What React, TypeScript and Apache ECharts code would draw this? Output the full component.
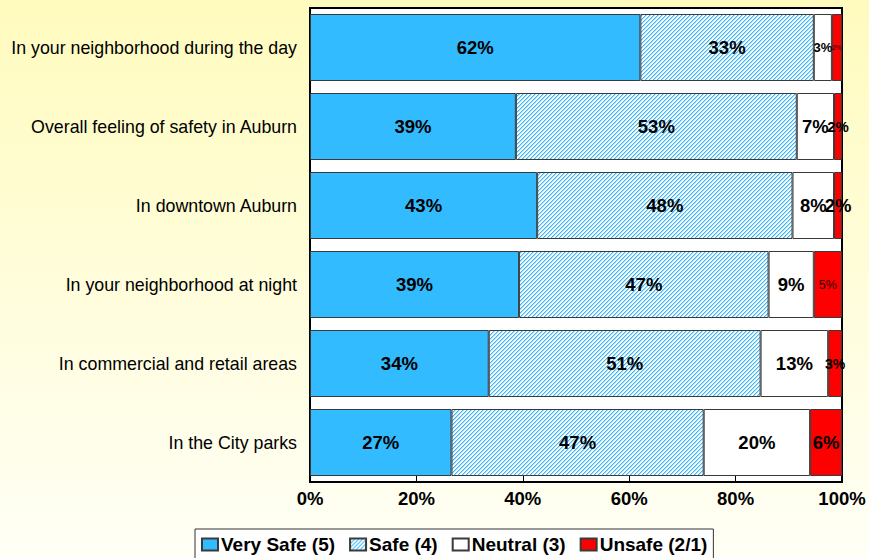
import React, { useEffect, useRef } from "react";
import * as echarts from "echarts";

const categories = [
  "In your neighborhood during the day",
  "Overall feeling of safety in Auburn",
  "In downtown Auburn",
  "In your neighborhood at night",
  "In commercial and retail areas",
  "In the City parks",
];
const seriesNames = ["Very Safe (5)", "Safe (4)", "Neutral (3)", "Unsafe (2/1)"];
const verySafe = [62.1, 38.7, 42.7, 39.3, 33.6, 26.6];
const safe = [32.6, 52.8, 48.0, 46.9, 51.1, 47.4];
const neutral = [3.4, 7.0, 7.8, 8.5, 12.7, 20.0];
const unsafe = [1.9, 1.5, 1.5, 5.3, 2.6, 6.0];
const xTicks = [0, 20, 40, 60, 80, 100];

// label style overrides: [seriesIndex, rowIndex] -> style
const labelOverrides: Record<string, any> = {
  "2-0": { fontSize: 13 },
  "3-0": { fontSize: 6.5, color: "#600" },
  "3-1": { fontSize: 15 },
  "3-2": { fontSize: 18.5 },
  "3-3": { fontSize: 12.5, fontWeight: "normal", color: "#200" },
  "3-4": { fontSize: 14 },
};

function makePattern() {
  const c = document.createElement("canvas");
  c.width = 4;
  c.height = 4;
  const ctx = c.getContext("2d")!;
  ctx.fillStyle = "#ffffff";
  ctx.fillRect(0, 0, 4, 4);
  for (let x = 0; x < 4; x++) {
    for (let y = 0; y < 4; y++) {
      const k = (x + y) % 4;
      if (k === 0) {
        ctx.fillStyle = "#33BBFF";
        ctx.fillRect(x, y, 1, 1);
      } else if (k === 1) {
        ctx.fillStyle = "#A6DEFF";
        ctx.fillRect(x, y, 1, 1);
      }
    }
  }
  return { image: c, repeat: "repeat", imageWidth: 4, imageHeight: 4 } as any;
}

export default function App() {
  const ref = useRef<HTMLDivElement>(null);
  useEffect(() => {
    const chart = echarts.init(ref.current!, null, { renderer: "svg" });
    const pattern = makePattern();
    const colors: any[] = ["#33BBFF", pattern, "#ffffff", "#FF0000"];
    const dataSets = [verySafe, safe, neutral, unsafe];
    const font = "'Liberation Sans', Arial, sans-serif";
    chart.setOption({
      animation: false,
      backgroundColor: new echarts.graphic.LinearGradient(0, 0, 0, 1, [
        { offset: 0, color: "#FFFBBE" },
        { offset: 1, color: "#FFFFF6" },
      ]),
      textStyle: { fontFamily: font },
      grid: {
        left: 310,
        right: 27,
        top: 8,
        bottom: 76,
        show: true,
        backgroundColor: "#ffffff",
        borderColor: "#000000",
        borderWidth: 2,
        containLabel: false,
      },
      legend: {
        data: seriesNames,
        left: 195,
        top: 529,
        orient: "horizontal",
        padding: [6, 6, 6, 6],
        borderColor: "#333",
        borderWidth: 1,
        backgroundColor: "#ffffff",
        itemWidth: 16,
        itemHeight: 12,
        itemGap: 14,
        icon: "rect",
        textStyle: { fontSize: 19, fontWeight: "bold", color: "#000", fontFamily: font, padding: [0, 0, 0, -2] },
      },
      xAxis: {
        type: "value",
        min: 0,
        max: 100,
        interval: 20,
        axisLine: { show: false },
        axisTick: { show: true, inside: true, length: 6, lineStyle: { color: "#000" } },
        splitLine: { show: false },
        axisLabel: {
          formatter: (v: number) => (xTicks.includes(v) ? v + "%" : ""),
          fontSize: 18.5,
          fontWeight: "bold",
          color: "#000",
          margin: 7,
          fontFamily: font,
        },
      },
      yAxis: {
        type: "category",
        data: categories,
        inverse: true,
        axisLine: { show: false },
        axisTick: { show: false },
        axisLabel: { fontSize: 17.8, color: "#000", margin: 13, fontFamily: font },
      },
      series: dataSets.map((arr, si) => ({
        name: seriesNames[si],
        type: "bar",
        stack: "total",
        barWidth: 67,
        itemStyle: { color: colors[si], borderColor: "#3a3a3a", borderWidth: 1 },
        label: {
          show: true,
          position: "inside",
          fontSize: 18.5,
          fontWeight: "bold",
          color: "#000",
          fontFamily: font,
          formatter: (p: any) => Math.round(p.value) + "%",
        },
        data: arr.map((v, ri) => {
          const o = labelOverrides[si + "-" + ri];
          return o ? { value: v, label: o } : v;
        }),
      })),
    });
    return () => chart.dispose();
  }, []);
  return (
    <div
      ref={ref}
      style={{ position: "fixed", left: 0, top: 0, width: 869, height: 558 }}
    />
  );
}
